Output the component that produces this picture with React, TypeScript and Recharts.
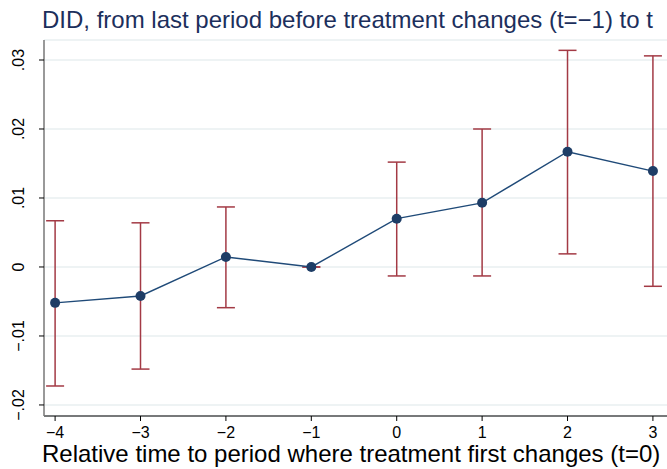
import React from "react";
import { ComposedChart, Line, XAxis, YAxis, CartesianGrid, ErrorBar } from "recharts";

const periods = [-4, -3, -2, -1, 0, 1, 2, 3];
const estimates = [-0.0052, -0.0042, 0.00145, 0, 0.007, 0.0093, 0.0167, 0.0139];
const ciLow = [-0.01725, -0.0148, -0.0059, 0, -0.0013, -0.0013, 0.0019, -0.0028];
const ciHigh = [0.0067, 0.0064, 0.0087, 0, 0.0152, 0.0200, 0.0314, 0.0306];
const yTicks = [-0.02, -0.01, 0, 0.01, 0.02, 0.03];
const yTickLabels = ["\u2212.02", "\u2212.01", "0", ".01", ".02", ".03"];
const xTicks = [-4, -3, -2, -1, 0, 1, 2, 3];

const title = "DID, from last period before treatment changes (t=\u22121) to t";
const xLabel = "Relative time to period where treatment first changes (t=0)";

const data = periods.map((p, i) => ({
  x: p,
  y: estimates[i],
  err: [estimates[i] - ciLow[i], ciHigh[i] - estimates[i]],
}));

const FONT = "'Liberation Sans', Arial, Helvetica, sans-serif";

const YTick = (props: any) => {
  const { x, y, payload } = props;
  const idx = yTicks.indexOf(payload.value);
  const label = idx >= 0 ? yTickLabels[idx] : String(payload.value);
  return (
    <text
      x={0}
      y={0}
      transform={`translate(${x - 19}, ${y}) rotate(-90)`}
      textAnchor="middle"
      dominantBaseline="central"
      fontSize={16}
      fontFamily={FONT}
      fill="#000"
    >
      {label}
    </text>
  );
};

const XTick = (props: any) => {
  const { x, y, payload } = props;
  const v = payload.value;
  const label = v < 0 ? "\u2212" + Math.abs(v) : String(v);
  return (
    <text
      x={x}
      y={y + 15}
      textAnchor="middle"
      fontSize={16}
      fontFamily={FONT}
      fill="#000"
    >
      {label}
    </text>
  );
};

export default function App() {
  return (
    <div
      style={{
        position: "fixed",
        left: 0,
        top: 0,
        width: 667,
        height: 469,
        overflow: "hidden",
        background: "#fff",
      }}
    >
      <div
        style={{
          position: "absolute",
          left: 42,
          top: 6,
          whiteSpace: "nowrap",
          fontFamily: FONT,
          fontSize: 24,
          color: "#1c2f5c",
        }}
      >
        {title}
      </div>
      <div style={{ position: "absolute", left: 0, top: 0 }}>
        <ComposedChart
          width={700}
          height={469}
          data={data}
          margin={{ top: 40, right: 30, bottom: 0, left: 0 }}
        >
          <CartesianGrid vertical={false} stroke="#e8eff1" strokeWidth={1.5} />
          <XAxis
            dataKey="x"
            type="number"
            domain={[-4.13, 3.2]}
            ticks={xTicks}
            tick={<XTick />}
            tickSize={5}
            height={53}
            axisLine={{ stroke: "#000", strokeWidth: 1.2 }}
            tickLine={{ stroke: "#000" }}
            allowDataOverflow
          />
          <YAxis
            type="number"
            domain={[-0.0216, 0.0329]}
            ticks={yTicks}
            tick={<YTick />}
            tickSize={5}
            width={44}
            axisLine={{ stroke: "#777", strokeWidth: 1.5 }}
            tickLine={{ stroke: "#000" }}
            allowDataOverflow
          />
          <Line
            dataKey="y"
            type="linear"
            stroke="#1f4a78"
            strokeWidth={1.4}
            isAnimationActive={false}
            dot={{ r: 5, fill: "#1e3d66", stroke: "#1e3d66", strokeWidth: 0 }}
            activeDot={false}
          >
            <ErrorBar
              dataKey="err"
              direction="y"
              width={9}
              stroke="#a33a45"
              strokeWidth={1.5}
              isAnimationActive={false}
            />
          </Line>
        </ComposedChart>
      </div>
      <div
        style={{
          position: "absolute",
          left: 42,
          top: 442,
          lineHeight: "24px",
          whiteSpace: "nowrap",
          fontFamily: FONT,
          fontSize: 24,
          color: "#000",
        }}
      >
        {xLabel}
      </div>
    </div>
  );
}
